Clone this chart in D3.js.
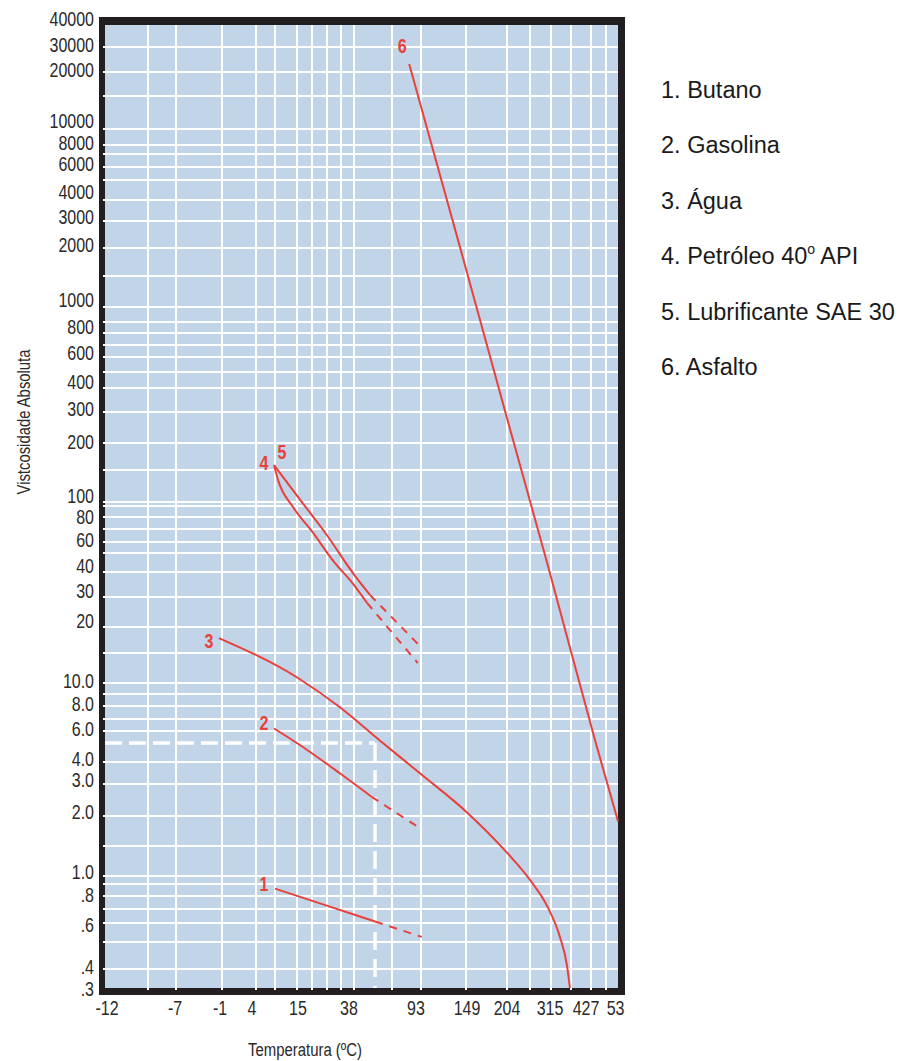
<!DOCTYPE html>
<html>
<head>
<meta charset="utf-8">
<script src="https://cdn.jsdelivr.net/npm/d3@7"></script>
<style>
  body { margin: 0; background: #fff; }
  .narrow { font-family: "Liberation Sans", Arial, sans-serif; }
  .legend { font-family: "Liberation Sans", Arial, sans-serif; }
</style>
</head>
<body>
<svg id="chart" width="902" height="1061"></svg>
<script>
// ---- data ----
const yTickLabels = ["40000", "30000", "20000", "10000", "8000", "6000", "4000", "3000", "2000",
  "1000", "800", "600", "400", "300", "200", "100", "80", "60", "40", "30", "20",
  "10.0", "8.0", "6.0", "4.0", "3.0", "2.0", "1.0", ".8", ".6", ".4", ".3"];
const xTickLabels = ["-12", "-7", "-1", "4", "15", "38", "93", "149", "204", "315", "427", "538"];

// unlabelled grid lines
const yMinorValues = [15000, 7000, 5000, 1500, 900, 700, 500, 150, 90, 70, 50, 15, 9, 7, 1.5, 0.9, 0.7, 0.5];
const xMinorValues = [-9, 10, 21, 27, 32, 66, 260, 371, 482];

const seriesNames = ["Butano", "Gasolina", "Água", "Petróleo 40° API", "Lubrificante SAE 30", "Asfalto"];

// [temperatura °C, viscosidade]
const butano = [[10, 0.86], [26, 0.73], [53.5, 0.61]];
const butanoExt = [[53.5, 0.61], [94, 0.525]];
const gasolina = [[9.7, 6.2], [16, 4.9], [31.6, 3.45], [51, 2.55]];
const gasolinaExt = [[51, 2.55], [92, 1.78]];
const agua = [[-1.4, 17.7], [15.4, 10.7], [31.6, 7.9], [57, 5.2], [92, 3.45], [150, 2.1],
  [204, 1.37], [260, 0.95], [307, 0.71], [340, 0.525], [360, 0.41], [368, 0.3]];
const petroleo = [[9.7, 158], [10.7, 132], [14.1, 89], [21.4, 67], [29, 46], [37.5, 35], [47.6, 27.7]];
const petroleoExt = [[47.6, 27.7], [90, 13.1]];
const lubrificante = [[9.7, 158], [16.2, 103], [27, 65], [37.5, 39.5], [49.8, 30.7]];
const lubrificanteExt = [[49.8, 30.7], [90, 16.6]];
const asfalto = [[82, 22800], [145, 1820], [201, 307], [307, 43], [442, 5.2], [538, 1.9]];

// leitura de exemplo (linha tracejada branca)
const exampleTemp = 53.5;
const exampleVisc = 5;

const seriesSolid = [butano, gasolina, agua, petroleo, lubrificante, asfalto];
const seriesDashed = [butanoExt, gasolinaExt, null, petroleoExt, lubrificanteExt, null];

// ---- axis calibration (the printed grid is not a regular log scale) ----
const yCal = [[40000, 25], [30000, 47], [20000, 72], [15000, 96], [10000, 129], [8000, 145], [7000, 154],
  [6000, 167], [5000, 180], [4000, 200], [3000, 221], [2000, 248], [1500, 276], [1000, 307], [900, 322],
  [800, 333], [700, 345], [600, 357], [500, 372], [400, 388], [300, 412], [200, 443], [150, 470],
  [100, 502], [90, 506], [80, 517], [70, 529], [60, 542], [50, 553], [40, 572], [30, 597], [20, 627],
  [15, 653], [10, 683], [9, 694], [8, 706], [7, 719], [6, 731], [5, 743], [4, 762], [3, 784], [2, 816],
  [1.5, 846], [1, 876], [0.9, 884], [0.8, 896], [0.7, 909], [0.6, 923], [0.5, 942], [0.4, 969], [0.3, 988]];
const xCal = [[-12, 105], [-9, 148], [-7, 176], [-1, 222], [4, 256], [10, 275], [15, 297], [21, 312],
  [27, 327], [32, 341], [38, 354], [66, 392], [93, 421], [149, 466], [204, 507], [260, 530], [315, 551],
  [371, 571], [427, 591], [482, 606], [538, 618]];

// small nudges of the printed tick labels relative to their grid line
const yLabelNudge = [-6, -2, -2, -8, -2, -3, -8, -4, -3, -7, -6, -4, -6, -3, -1, -6, 0, -2, -6, -6, -6,
  -2, -2, -2, -3, -4, -4, -4, -1, 2, -2, 1];
const xLabelNudge = [2, -1, -2, -4, 1, -5, -5, 1, 0, -1, -5, 2];

const plot = { left: 105, right: 618, top: 25, bottom: 988 };
const red = "#e8413b";
const squeezeFactor = 0.82;

const svg = d3.select("#chart");

const x = d3.scaleLinear().domain(xCal.map(d => d[0])).range(xCal.map(d => d[1]));
const yLog = d3.scaleLinear().domain(yCal.map(d => Math.log10(d[0]))).range(yCal.map(d => d[1]));
const y = v => yLog(Math.log10(v));

// condensed look: squeeze glyphs horizontally
function squeeze(sel, f) {
  sel.each(function () {
    const w = this.getComputedTextLength();
    d3.select(this).attr("textLength", w * f).attr("lengthAdjust", "spacingAndGlyphs");
  });
}

// frame + background
svg.append("rect")
  .attr("x", plot.left - 6).attr("y", plot.top - 8)
  .attr("width", plot.right - plot.left + 13).attr("height", plot.bottom - plot.top + 15)
  .attr("fill", "#231f20");
svg.append("rect")
  .attr("x", plot.left).attr("y", plot.top)
  .attr("width", plot.right - plot.left).attr("height", plot.bottom - plot.top)
  .attr("fill", "#c1d4e8");

// grid
const yGrid = yTickLabels.map(d => +d).concat(yMinorValues).filter(v => v < 40000 && v > 0.3 && v !== 5);
const xGrid = xTickLabels.map(d => +d).concat(xMinorValues).filter(v => v > -12 && v < 538);

svg.append("g").selectAll("line")
  .data(yGrid).enter().append("line")
  .attr("x1", plot.left - 2).attr("x2", plot.right)
  .attr("y1", d => y(d)).attr("y2", d => y(d))
  .attr("stroke", "#fff").attr("stroke-width", 2);

svg.append("g").selectAll("line")
  .data(xGrid).enter().append("line")
  .attr("x1", d => x(d)).attr("x2", d => x(d))
  .attr("y1", plot.top).attr("y2", plot.bottom + 2)
  .attr("stroke", "#fff").attr("stroke-width", 2);

// example reading: dashed white lines
svg.append("line")
  .attr("x1", x(-12)).attr("x2", x(exampleTemp))
  .attr("y1", y(exampleVisc)).attr("y2", y(exampleVisc))
  .attr("stroke", "#fff").attr("stroke-width", 3.5).attr("stroke-dasharray", "17,7");
svg.append("line")
  .attr("x1", x(exampleTemp)).attr("x2", x(exampleTemp))
  .attr("y1", y(exampleVisc)).attr("y2", y(0.3))
  .attr("stroke", "#fff").attr("stroke-width", 3.5).attr("stroke-dasharray", "18,9");

// curves
const line = d3.line()
  .x(d => x(d[0]))
  .y(d => y(d[1]))
  .curve(d3.curveMonotoneX);

svg.append("g").selectAll("path")
  .data(seriesSolid).enter().append("path")
  .attr("d", line)
  .attr("fill", "none").attr("stroke", red).attr("stroke-width", 2);

svg.append("g").selectAll("path")
  .data(seriesDashed.filter(d => d)).enter().append("path")
  .attr("d", line)
  .attr("fill", "none").attr("stroke", red).attr("stroke-width", 2)
  .attr("stroke-dasharray", "8,7");

// curve numbers
const labelOffsets = [[-11, -5], [-10, -6], [-10, 3], [-10, -2], [8, -13], [-7, -18]];
svg.append("g").selectAll("text")
  .data(seriesSolid).enter().append("text")
  .attr("class", "narrow")
  .attr("x", (d, i) => x(d[0][0]) + labelOffsets[i][0])
  .attr("y", (d, i) => y(d[0][1]) + labelOffsets[i][1])
  .attr("dy", "0.36em")
  .attr("text-anchor", "middle")
  .attr("font-size", 20).attr("font-weight", "bold")
  .attr("fill", red)
  .text((d, i) => i + 1)
  .call(squeeze, 0.8);

// y tick labels
svg.append("g").selectAll("text")
  .data(yTickLabels).enter().append("text")
  .attr("class", "narrow")
  .attr("x", plot.left - 11)
  .attr("y", (d, i) => y(+d) + yLabelNudge[i])
  .attr("dy", "0.36em")
  .attr("text-anchor", "end")
  .attr("font-size", 19.5).attr("fill", "#2a2a2a")
  .text(d => d)
  .call(squeeze, squeezeFactor);

// x tick labels (the last one is cut by the legend panel, as in the original)
svg.append("clipPath").attr("id", "xclip")
  .append("rect").attr("x", 0).attr("y", 990).attr("width", 625).attr("height", 40);
svg.append("g").attr("clip-path", "url(#xclip)").selectAll("text")
  .data(xTickLabels).enter().append("text")
  .attr("class", "narrow")
  .attr("x", (d, i) => x(+d) + xLabelNudge[i])
  .attr("y", 1015)
  .attr("text-anchor", "middle")
  .attr("font-size", 19.5).attr("fill", "#2a2a2a")
  .text(d => d)
  .call(squeeze, squeezeFactor);

// axis titles
svg.append("text")
  .attr("class", "narrow")
  .attr("transform", "translate(30,422) rotate(-90)")
  .attr("text-anchor", "middle")
  .attr("font-size", 18).attr("fill", "#2a2a2a")
  .attr("textLength", 145).attr("lengthAdjust", "spacingAndGlyphs")
  .text("Vistcosidade Absoluta");

svg.append("text")
  .attr("class", "narrow")
  .attr("x", 305).attr("y", 1056)
  .attr("text-anchor", "middle")
  .attr("font-size", 18).attr("fill", "#2a2a2a")
  .attr("textLength", 114).attr("lengthAdjust", "spacingAndGlyphs")
  .text("Temperatura (ºC)");

// legend
const legend = svg.append("g").attr("class", "legend")
  .selectAll("text")
  .data(seriesNames).enter().append("text")
  .attr("x", 661)
  .attr("y", (d, i) => 98 + i * 55.4)
  .attr("font-size", 23.5).attr("fill", "#1a1a1a");

legend.each(function (d, i) {
  const t = d3.select(this);
  if (d.includes("°")) {
    const parts = d.split("°");
    t.append("tspan").text((i + 1) + ". " + parts[0]);
    t.append("tspan").attr("font-size", 14).attr("dy", -10).text("o");
    t.append("tspan").attr("dy", 10).text(parts[1]);
  } else {
    t.text((i + 1) + ". " + d);
  }
});
</script>
</body>
</html>
